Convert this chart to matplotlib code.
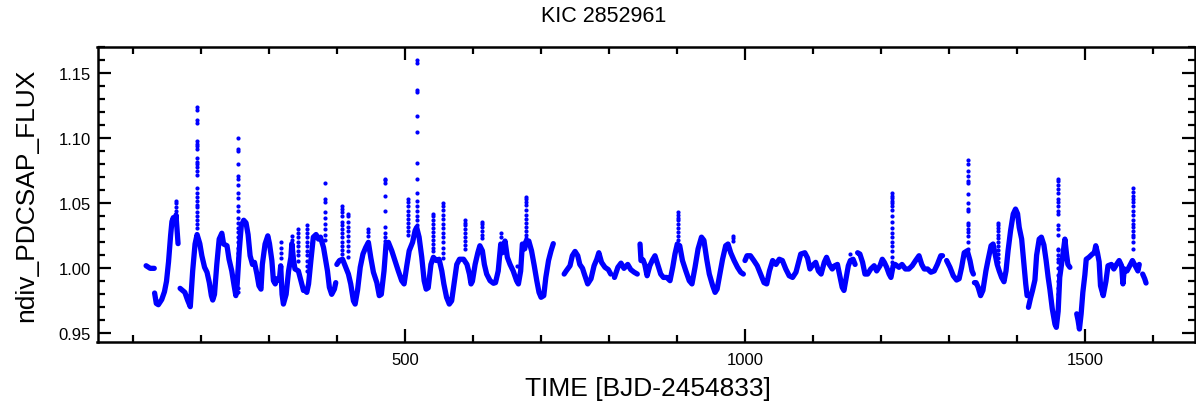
import numpy as np
import matplotlib
matplotlib.use("Agg")
import matplotlib.pyplot as plt
from matplotlib.ticker import MultipleLocator

plt.rcParams['font.family'] = ['Liberation Sans', 'DejaVu Sans']

nan = np.nan
# Main light curve (TIME, flux); nan marks a data gap
time = [119, 122, 125, 128, 131, nan,
        131.5, 134, 137, 142, 146, 149, 152, 155, 157, 159, 161, 163, 164.5, 166, nan,
        169, 176, 180, 184, 187.5, 191, 194, 198, 201, 205, 208.6, 212, 215, 217, 219.6, 223, 226.5, 230.4, 233, 238,
        241, 245, 248.5, 251, 253, 256, 259, 262.6, 266, 269, 272, 275.5, 278.4, 282, 285, 288, 290, 294, 298, 300.5,
        304, 306.3, 309, 311, 315, 317, 319, 321, 325, 328.6, 332, 333.4, 336, 338, 343, 346.7, 350.5, 353, 355.4, 358,
        361.4, 365, 369, 372.5, 375.5, 380, 385.8, 388.6, 392, 396, 398, nan,
        399.6, 403.4, 408, 411, 416.6, 420, 424, 426.5, 430, 434, 438, 442, 446, 449.6, 453.4, 458.4, 462, 465, 469, 472,
        475.4, 480.4, 485, 490, 495, 498.5, 502.5, 506, 511, 514.7, 517, 520.6, 524.5, 528, 531, 534, 538, 541.6, 546,
        550, 554, 557, 561, 565, 568.5, 572, 576, 580, 586, 591, 594.6, 597, 599, 603, 607, 610, 613.7, 616.6, 620, 625,
        630, 633, 637, 640.7, 643, 647, 650.4, 654.4, 659, 664, 666.7, 670, 672.5, 676, 678, 682, 686, 690, 693.7, 697,
        700, 704, 707, 711, 714.7, 718, nan,
        734, 737, 742.6, 746, 750, 754, 757, 761, 763.7, 768.6, 773.5, 778, 782, 785, 789, 794, 799, 802.5, nan,
        808, 813, 817.6, 822, 827.5, 832, 837, 841.6, nan,
        845.6, 847, 850, 852.6, 856, 860, 864, 867.6, 871, 876, 880, 885, 889.7, 893.7, 897, 900.4, 904, 908, 913, 918,
        922, 926.5, 931, 936, 939.6, 943.7, 947.5, 952.5, 956, 959, 963, 967, 971.6, 975, 979, 984, 989, 993.7, 997.6, nan,
        1000, 1003, 1008, 1013, 1018, 1023, 1028, 1032, 1036, 1040.7, 1045.6, 1050.4, 1055, 1060, 1065, 1070, 1075, 1080,
        1082, 1088, 1092, 1095.6, 1099, 1104, 1108, 1112, 1116.6, 1120, 1124, 1128.4, 1132, 1136, 1140, 1143, 1145.6, 1148,
        1152, 1155, 1159, 1162, nan,
        1165.7, 1169, 1173, 1176.5, 1180.4, 1185, 1190, 1193.7, 1198.6, 1202, 1205, 1208.4, 1212, 1214.7, 1218, 1221,
        1226.5, 1231, 1236, 1241, 1246, 1251, 1256, 1260, 1263.7, 1268.6, 1273.5, 1278.4, 1283, 1288, 1290.6, nan,
        1296.6, 1301.5, 1306.4, 1311.3, 1315, 1318.7, 1322.5, 1327, 1331, 1334, 1336, nan,
        1337.5, 1340, 1343, 1346.6, 1350, 1354.4, 1357.8, 1362, 1365, 1367.6, 1371, 1374, 1377.5, 1381, 1384, 1387, 1390.7,
        1394.6, 1398, 1401, 1403.4, 1407, 1410, 1413, 1415, nan,
        1417, 1420, 1423, 1426.5, 1429, 1432.8, 1436, 1439.7, 1443, 1446, 1448.5, 1452, 1456, 1458, 1460.7, 1463, 1465.7,
        1468, 1470.6, 1473, 1475, 1478, nan,
        1488, 1490, 1492, 1494.5, 1497, 1500, 1502, 1506, 1511, 1514, 1516, 1518.5, 1521, 1523, 1527, 1531, 1534, 1539,
        1542.6, 1546.6, 1550.4, 1554, 1556, 1558, 1562, 1566, 1570, 1573, 1578, 1580, nan,
        1585, 1588, 1590]

flux = [1.002, 1.001, 1.000, 1.000, 1.000, nan,
        0.981, 0.973, 0.972, 0.976, 0.982, 0.990, 1.005, 1.025, 1.036, 1.039, 1.035, 1.041, 1.030, 1.019, nan,
        0.9846, 0.9815, 0.9756, 0.9705, 0.998, 1.0187, 1.026, 1.019, 1.0097, 1.0008, 0.997, 0.989, 0.979, 0.9756, 0.980,
        1.003, 1.0225, 1.027, 1.0187, 1.0174,
        1.007, 0.998, 0.9866, 0.979, 0.988, 1.0135, 1.0328, 1.037, 1.035, 1.026, 1.0097, 1.003, 1.0046, 0.9956, 0.9866,
        0.984, 1.003, 1.0187, 1.025, 1.019,
        1.006, 0.9905, 0.988, 0.992, 0.991, 1.002, 0.980, 0.9725, 0.980, 0.998, 1.0085, 1.019, 1.006, 0.9995, 0.998,
        0.9905, 0.983, 0.983, 0.9815, 0.988,
        1.006, 1.024, 1.026, 1.0225, 1.024, 1.016, 0.998, 0.9854, 0.980, 0.984, 0.989, nan,
        1.003, 1.006, 1.007, 1.003, 0.9956, 0.988, 0.975, 0.9725, 0.983, 1.0008, 1.011, 1.016, 1.020, 1.008, 0.997,
        0.989, 0.979, 0.980, 0.998, 1.0187,
        1.020, 1.0135, 1.006, 0.998, 0.9905, 0.988, 1.002, 1.0135, 1.020, 1.029, 1.0315, 1.024, 1.0085, 0.9905, 0.984,
        0.985, 1.003, 1.0085, 1.006,
        1.007, 0.998, 0.988, 0.9777, 0.9725, 0.975, 0.988, 1.003, 1.007, 1.007, 1.003, 0.9956, 0.988, 0.990, 1.003,
        1.012, 1.0174, 1.0135, 1.003, 0.9956, 0.9905,
        0.9885, 0.989, 0.998, 1.0187, 1.012, 1.021, 1.0085, 1.003, 0.998, 0.9905, 0.988, 0.998, 1.0187, 1.015, 1.021,
        1.021, 1.0135, 1.002, 0.9905, 0.9815,
        0.9777, 0.979, 0.993, 1.006, 1.0135, 1.019, nan,
        0.9956, 0.998, 1.002, 1.0097, 1.013, 1.0097, 1.003, 1.000, 0.9956, 0.988, 0.992, 1.002, 1.007, 1.012, 1.0046,
        1.0008, 0.999, 0.9956, nan,
        0.993, 1.0008, 1.004, 1.000, 1.003, 0.999, 0.997, 0.9956, nan,
        1.0187, 1.006, 1.0065, 1.003, 0.9943, 1.002, 1.0065, 1.0097, 1.004, 0.9956, 0.993, 0.993, 0.9905, 1.0008, 1.011,
        1.0187, 1.0174, 1.006, 0.998, 0.9905,
        0.988, 1.0008, 1.015, 1.024, 1.0215, 1.007, 0.9956, 0.9866, 0.9815, 0.984, 0.9956, 1.007, 1.0174, 1.0187, 1.012,
        1.006, 1.0008, 0.997, 0.9956, nan,
        1.006, 1.0097, 1.0097, 1.006, 1.002, 0.9956, 0.989, 0.988, 0.998, 1.006, 1.003, 1.007, 1.006, 0.9995, 0.9943,
        0.993, 0.997, 1.007,
        1.011, 1.012, 1.008, 0.9995, 1.002, 1.0046, 0.998, 0.9956, 1.0046, 1.0085, 1.003, 0.9995, 1.002, 1.003, 0.993,
        0.9854, 0.983, 0.990,
        1.002, 1.006, 1.007, 1.003, nan,
        1.012, 1.011, 1.0046, 0.9956, 0.9956, 0.9995, 1.002, 0.998, 1.002, 1.007, 1.0046, 1.0008, 0.9956, 0.993, 1.002,
        1.003,
        1.0008, 1.003, 0.9995, 0.9995, 1.002, 1.006, 1.0097, 1.003, 0.9995, 0.9995, 0.997, 0.998, 1.003, 1.0097, 1.0097, nan,
        1.006, 1.0008, 0.9943, 0.991, 0.992, 1.0008, 1.012, 1.0135, 1.006, 0.998, 0.9956, nan,
        0.989, 0.989, 0.9854, 0.979, 0.983, 0.998, 1.007, 1.0174, 1.0187, 1.012, 1.003, 0.998, 0.993, 0.9897, 0.998,
        1.0135, 1.029,
        1.0418, 1.0456, 1.042, 1.0315, 1.0225, 1.005, 0.988, 0.979, nan,
        0.970, 0.977, 0.983, 0.991, 1.010, 1.0225, 1.024, 1.018, 1.006, 0.993, 0.984, 0.969, 0.957, 0.9546, 0.967, 0.993,
        1.003,
        1.012, 1.0225, 1.011, 1.003, 1.0008, nan,
        0.965, 0.960, 0.9533, 0.965, 0.9815, 0.995, 1.007, 1.0085, 1.011, 1.012, 1.0174, 1.012, 1.005, 0.9866, 0.979,
        0.990, 1.002, 1.003,
        0.9995, 1.003, 1.006, 1.002, 0.988, 0.9995, 0.998, 1.002, 1.006, 1.003, 0.998, 1.003, nan,
        0.9956, 0.992, 0.9887]

# Flare points (vertical runs of individual cadences)
flare_time = [163, 194.6, 254, 317, 333.4, 342, 355.4, 382.4, 407, 416.7, 445, 470.6, 504.5, 517.5,
              541.6, 556, 588, 613, 640.7, 664, 677.5, 902, 982, 1155, 1216, 1328.4, 1372.5, 1460.7, 1571]
flare_flux = [
    [1.052, 1.050, 1.047, 1.044, 1.041],
    [1.124, 1.122, 1.114, 1.112, 1.098, 1.096, 1.094, 1.092, 1.085, 1.082, 1.080, 1.078, 1.075, 1.072, 1.062,
     1.058, 1.055, 1.052, 1.049, 1.047, 1.043, 1.040, 1.037, 1.034, 1.031],
    [1.100, 1.092, 1.090, 1.080, 1.071, 1.069, 1.064, 1.058, 1.054, 1.048, 1.044, 1.039, 1.035, 1.031, 1.028,
     1.024, 1.020, 1.016, 1.012, 1.008, 1.004, 0.985, 0.982],
    [1.020, 1.016, 1.012, 1.008],
    [1.025, 1.022],
    [1.030, 1.027, 1.024, 1.020, 1.017, 1.013, 1.010, 1.006],
    [1.033, 1.030, 1.027, 1.024, 1.020, 1.017, 1.013, 1.010, 1.006, 1.002, 0.998],
    [1.066, 1.053, 1.051, 1.043, 1.039, 1.034, 1.030, 1.026, 1.022],
    [1.048, 1.046, 1.043, 1.040, 1.036, 1.033, 1.030, 1.027, 1.024, 1.020, 1.017, 1.014, 1.011],
    [1.042, 1.040, 1.036, 1.032, 1.029, 1.025, 1.021, 1.017, 1.013, 1.009],
    [1.030, 1.028, 1.025],
    [1.069, 1.068, 1.066, 1.056, 1.044, 1.032, 1.027, 1.024, 1.021],
    [1.053, 1.051, 1.048, 1.044, 1.041, 1.038, 1.035, 1.032, 1.029, 1.026],
    [1.160, 1.158, 1.137, 1.136, 1.117, 1.105, 1.081, 1.069, 1.058, 1.052, 1.048, 1.044, 1.040, 1.037, 1.033],
    [1.042, 1.040, 1.037, 1.034, 1.031, 1.028, 1.025, 1.022, 1.019, 1.016, 1.013],
    [1.050, 1.048, 1.045, 1.041, 1.038, 1.034, 1.031, 1.027, 1.024, 1.020, 1.016, 1.012, 1.008],
    [1.037, 1.035, 1.033, 1.030, 1.027, 1.024, 1.021, 1.018, 1.015],
    [1.036, 1.034, 1.032, 1.029, 1.026, 1.023],
    [1.027, 1.024],
    [1.0015],
    [1.055, 1.053, 1.051, 1.049, 1.045, 1.041, 1.038, 1.035, 1.032, 1.029, 1.026, 1.023],
    [1.043, 1.041, 1.039, 1.037, 1.034, 1.031, 1.028, 1.025, 1.022],
    [1.025, 1.023, 1.021],
    [1.011],
    [1.058, 1.056, 1.054, 1.052, 1.050, 1.048, 1.045, 1.040, 1.036, 1.031, 1.027, 1.024, 1.020, 1.017, 1.013,
     1.009, 1.005],
    [1.083, 1.080, 1.075, 1.071, 1.067, 1.066, 1.057, 1.050, 1.046, 1.044, 1.035, 1.033, 1.030, 1.028, 1.025,
     1.020, 1.015],
    [1.035, 1.033, 1.031, 1.029, 1.026, 1.023, 1.020, 1.017, 1.014, 1.011, 1.008, 1.005],
    [1.069, 1.067, 1.064, 1.061, 1.058, 1.053, 1.051, 1.048, 1.044, 1.042, 1.033, 1.030, 1.026, 1.015, 1.014,
     1.010, 1.007, 1.005, 1.000, 0.995, 0.990, 0.985, 0.980, 0.975],
    [1.0615, 1.0585, 1.056, 1.053, 1.051, 1.048, 1.044, 1.041, 1.037, 1.034, 1.032, 1.029, 1.026, 1.024, 1.020,
     1.015],
]

title = "KIC 2852961"
xlabel = "TIME [BJD-2454833]"
ylabel = "ndiv_PDCSAP_FLUX"
xticks = [500, 1000, 1500]
yticks = [0.95, 1.00, 1.05, 1.10, 1.15]
ytick_labels = ["0.95", "1.00", "1.05", "1.10", "1.15"]

W, H = 1196, 414
fig = plt.figure(figsize=(W / 100, H / 100), dpi=100)
ax = fig.add_axes([97.5 / W, 1 - 343.3 / H, (1195 - 97.5) / W, (343.3 - 47.7) / H])

blue = (0, 0, 1)
ax.plot(time, flux, color=blue, lw=3.8, solid_capstyle='round', solid_joinstyle='round')
for t, fl in zip(flare_time, flare_flux):
    ax.plot([t] * len(fl), fl, linestyle='none', marker='o', ms=3.0, mec='none', mfc=blue)

ax.set_xlim(47.5, 1662)
ax.set_ylim(0.9431, 1.1705)
ax.set_xticks(xticks)
ax.set_xticklabels([str(v) for v in xticks])
ax.xaxis.set_minor_locator(MultipleLocator(100))
ax.set_yticks(yticks)
ax.set_yticklabels(ytick_labels)
ax.yaxis.set_minor_locator(MultipleLocator(0.01))

for s in ax.spines.values():
    s.set_linewidth(1.8)
ax.tick_params(which='both', direction='in', top=True, right=True, width=1.6, colors='black')
ax.tick_params(which='major', length=9.5, labelsize=12, pad=5)
ax.tick_params(which='minor', length=5)
ax.tick_params(axis='x', which='major', pad=7)

fig.text(0.505, 1 - 17 / H, title, ha='center', va='center', fontsize=15.5)
fig.text(648 / W, 1 - 389 / H, xlabel, ha='center', va='center', fontsize=19)
fig.text(26 / W, 1 - 195.5 / H, ylabel, ha='center', va='center', rotation=90, fontsize=19)

fig.savefig("out.png", dpi=100)
